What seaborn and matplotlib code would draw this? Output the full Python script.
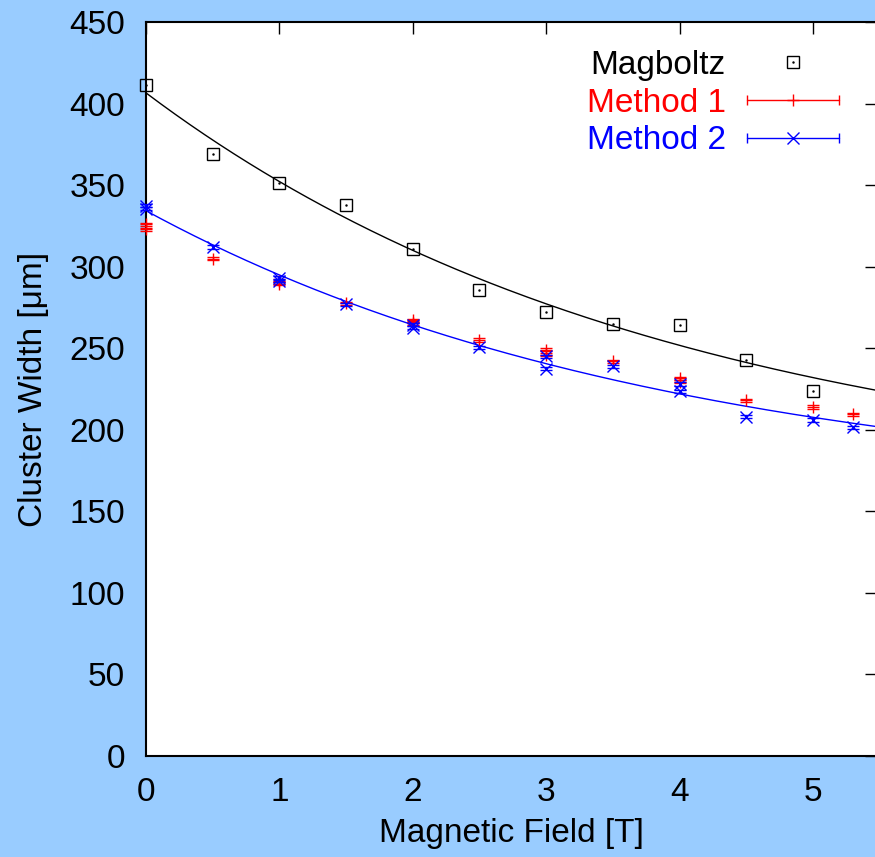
import numpy as np
import matplotlib
matplotlib.use("Agg")
import matplotlib.pyplot as plt
import seaborn as sns
from matplotlib.lines import Line2D
from matplotlib.legend_handler import HandlerLine2D, HandlerTuple

# --------------------------------------------------------------------------- #
#                              DATA                            #
# --------------------------------------------------------------------------- #
mag_x = [0, 0.5, 1, 1.5, 2, 2.5, 3, 3.5, 4, 4.5, 5]
mag_y = [411.5, 369, 351, 338, 311, 285.5, 272, 265, 264.5, 243, 224]

meth_x = [0, 0, 0.5, 1, 1, 1.5, 2, 2, 2.5, 3, 3, 3.5, 4, 4, 4.5, 5, 5.3]
m1_y = [326, 323, 305, 291.5, 289.5, 277.5, 267, 265.5, 255, 249, 246, 242,
        231.5, 229.5, 218, 214, 209.5]
m1_err = [1.0, 1.0, 1.0, 1.0, 1.0, 1.0, 1.0, 1.0, 1.0, 1.0, 1.0, 1.0,
          1.0, 1.0, 1.0, 1.0, 1.0]
m2_y = [337.5, 335.5, 312, 293, 291.5, 277, 264.5, 262.5, 250.5, 245, 237.5,
        239, 228, 223.5, 208, 206, 201.5]
m2_err = [1.0, 1.0, 1.0, 1.0, 1.0, 1.0, 1.0, 1.0, 1.0, 1.0, 1.0, 1.0,
          1.0, 1.0, 1.0, 1.0, 1.0]

labels = ["Magboltz", "Method 1", "Method 2"]
colors = ["black", "red", "blue"]
x_ticks = [0, 1, 2, 3, 4, 5]
y_ticks = list(range(0, 451, 50))
XMAX = 5.48
FS = 24


def fit_exp(x, y, xs):
    """Least-squares fit of y = a*exp(-b x) + c (grid over b)."""
    x = np.asarray(x, float)
    y = np.asarray(y, float)
    best = None
    for b in np.linspace(0.01, 2.0, 2000):
        A = np.column_stack([np.exp(-b * x), np.ones_like(x)])
        coef = np.linalg.lstsq(A, y, rcond=None)[0]
        r = np.sum((A @ coef - y) ** 2)
        if best is None or r < best[0]:
            best = (r, b, coef)
    _, b, (a, c) = best
    return a * np.exp(-b * xs) + c


# --------------------------------------------------------------------------- #
#                                  PLOT                                        #
# --------------------------------------------------------------------------- #
sns.set_style("white")
plt.rcParams["font.family"] = ["Liberation Sans", "DejaVu Sans"]
plt.rcParams["font.size"] = FS
plt.rcParams["text.color"] = "black"
plt.rcParams["axes.labelcolor"] = "black"

fig = plt.figure(figsize=(8.75, 8.57), dpi=100, facecolor="#99ccff")
ax = fig.add_axes([146 / 875, 101 / 857, 731 / 875, 734 / 857])
ax.set_facecolor("white")

xs = np.linspace(0, XMAX, 300)
sns.lineplot(x=xs, y=fit_exp(mag_x, mag_y, xs), color="black", lw=1, ax=ax)
sns.lineplot(x=xs, y=fit_exp(meth_x, m2_y, xs), color="blue", lw=1, ax=ax)

e1 = ax.errorbar(meth_x, m1_y, yerr=m1_err, fmt="+", color="red", ms=8.6,
                 mew=1, elinewidth=1, capsize=4.3, capthick=1, zorder=3)
e2 = ax.errorbar(meth_x, m2_y, yerr=m2_err, fmt="x", color="blue", ms=8.6,
                 mew=1, elinewidth=1, capsize=4.3, capthick=1, zorder=4)
for cont in (e1, e2):
    for art in cont.get_children():
        art.set_clip_on(False)

ax.plot(mag_x, mag_y, ls="none", marker="s", ms=8.5, mfc="none",
        mec="black", mew=1, zorder=5, clip_on=False)
ax.plot(mag_x, mag_y, ls="none", marker=".", ms=1.5, color="black",
        zorder=5, clip_on=False)

ax.set_xlim(0, XMAX)
ax.set_ylim(0, 450)
ax.set_xticks(x_ticks)
ax.set_yticks(y_ticks)
ax.tick_params(direction="in", length=8.6, width=1, top=True, right=True,
               labelsize=FS, pad=15, colors="black")
for side in ["left", "top", "bottom", "right"]:
    ax.spines[side].set_color("black")
    ax.spines[side].set_linewidth(1.5)

ax.set_xlabel("Magnetic Field [T]", fontsize=FS, labelpad=7, color="black")
ax.set_ylabel("Cluster Width [μm]", fontsize=FS, labelpad=15, color="black")

# gnuplot-style key: text right-aligned, then sample
h_mag = (Line2D([], [], ls="none", marker="s", ms=8.5, mfc="none", mec="black", mew=1),
         Line2D([], [], ls="none", marker=".", ms=1.5, color="black"))
h_m1 = (Line2D([], [], color="red", lw=1, marker="|", ms=7.5, mew=1),
        Line2D([], [], ls="none", color="red", marker="+", ms=8.6, mew=1))
h_m2 = (Line2D([], [], color="blue", lw=1, marker="|", ms=7.5, mew=1),
        Line2D([], [], ls="none", color="blue", marker="x", ms=8.6, mew=1))

hmap = {
    h_mag[0]: HandlerLine2D(numpoints=1),
    h_mag[1]: HandlerLine2D(numpoints=1),
    h_m1[0]: HandlerLine2D(numpoints=2, marker_pad=0),
    h_m1[1]: HandlerLine2D(numpoints=1),
    h_m2[0]: HandlerLine2D(numpoints=2, marker_pad=0),
    h_m2[1]: HandlerLine2D(numpoints=1),
    tuple: HandlerTuple(ndivide=1, pad=0),
}
leg = ax.legend([h_mag, h_m1, h_m2], labels, handler_map=hmap,
                loc="upper right", bbox_to_anchor=(0.948, 0.962),
                frameon=False, markerfirst=False, borderpad=0,
                borderaxespad=0, handlelength=2.75, handletextpad=0.65,
                labelspacing=0.2, fontsize=FS)
for txt, c in zip(leg.get_texts(), colors):
    txt.set_color(c)

plt.savefig("out.png", dpi=100, facecolor=fig.get_facecolor())
